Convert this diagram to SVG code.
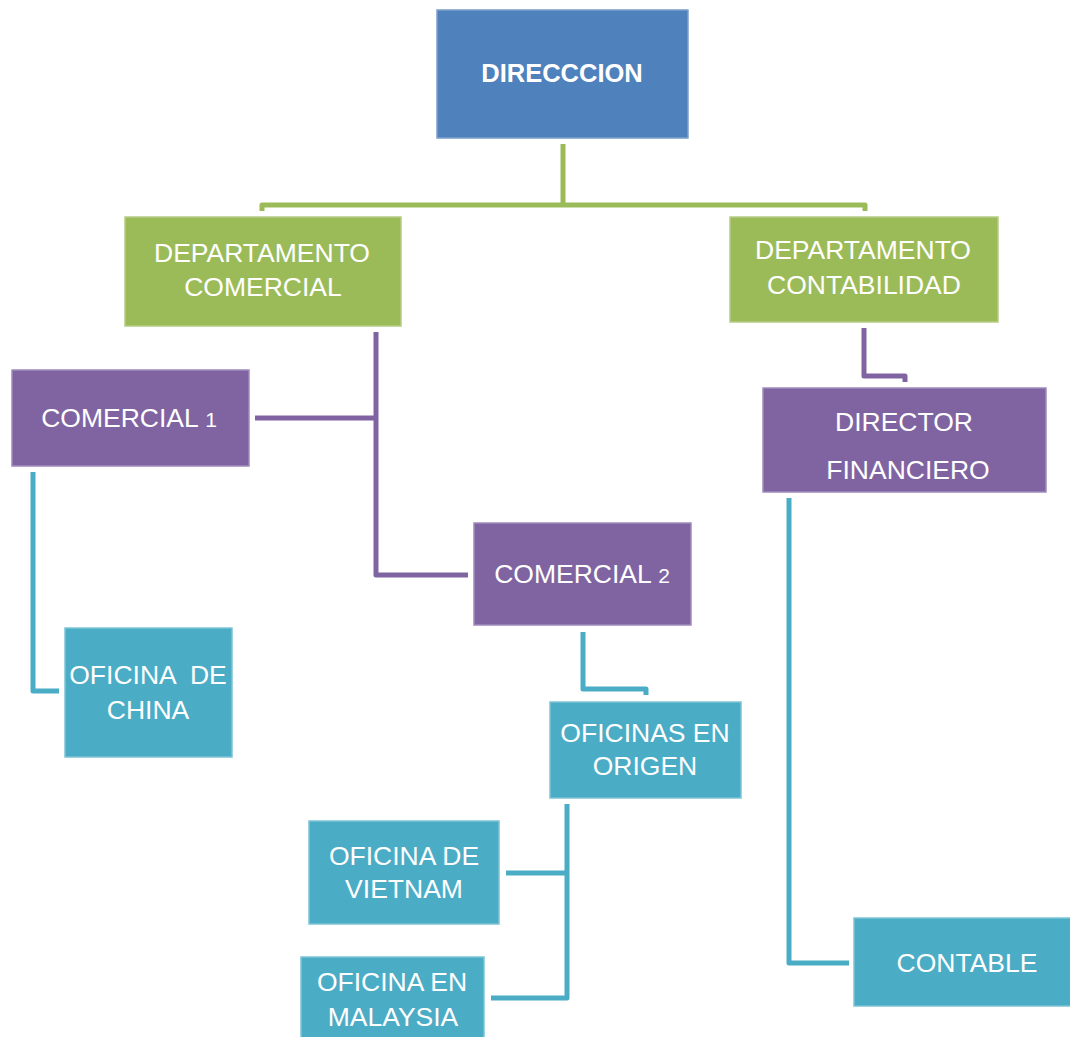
<svg xmlns="http://www.w3.org/2000/svg" width="1070" height="1037" viewBox="0 0 1070 1037">
<style>
.box{stroke-width:1.5}
.blue{fill:#4F81BD;stroke:#7C9FCC}
.green{fill:#9BBB59;stroke:#B5CC85}
.purple{fill:#8064A2;stroke:#A08BBB}
.teal{fill:#4BACC6;stroke:#7DC3D6}
text{font-family:"Liberation Sans",Arial,sans-serif;font-size:26.5px;fill:#FFFFFF;text-anchor:middle;white-space:pre}
.b{font-weight:bold;font-size:25.5px}
.c{fill:none;stroke-width:5;stroke-linejoin:round}
.cg{stroke:#9BBB59}
.cp{stroke:#8064A2}
.ct{stroke:#4BACC6}
</style>
<rect width="1070" height="1037" fill="#FFFFFF"/>
<g id="connectors">
<path class="c cg" d="M563,144 V205 M262,211 V205 H865 V211"/>
<path class="c cp" d="M376,332 V575 H468 M255,418 H376"/>
<path class="c cp" d="M864,328 V376 H905 V382"/>
<path class="c ct" d="M33,472 V691 H59"/>
<path class="c ct" d="M583,632 V689 H646 V695"/>
<path class="c ct" d="M567,804 V998 H491 M506,873 H567"/>
<path class="c ct" d="M789,498 V963 H849"/>
</g>
<g id="direccion">
<rect class="box blue" x="437" y="10" width="251" height="128"/>
<text class="b" x="562" y="82">DIRECCCION</text>
</g>
<g id="dep-comercial">
<rect class="box green" x="125" y="217" width="276" height="109"/>
<text x="262" y="262">DEPARTAMENTO</text>
<text x="263" y="296">COMERCIAL</text>
</g>
<g id="dep-contabilidad">
<rect class="box green" x="730" y="217" width="268" height="105"/>
<text x="863" y="259">DEPARTAMENTO</text>
<text x="864" y="294">CONTABILIDAD</text>
</g>
<g id="comercial1">
<rect class="box purple" x="12" y="370" width="237" height="96"/>
<text x="129" y="427">COMERCIAL <tspan font-size="21">1</tspan></text>
</g>
<g id="comercial2">
<rect class="box purple" x="474" y="523" width="217" height="102"/>
<text x="582" y="583">COMERCIAL <tspan font-size="21">2</tspan></text>
</g>
<g id="director-financiero">
<rect class="box purple" x="763" y="388" width="283" height="104"/>
<text x="904" y="431">DIRECTOR</text>
<text x="908" y="479">FINANCIERO</text>
</g>
<g id="oficina-china">
<rect class="box teal" x="65" y="628" width="167" height="129"/>
<text x="148" y="684">OFICINA  DE</text>
<text x="148" y="719">CHINA</text>
</g>
<g id="oficinas-origen">
<rect class="box teal" x="550" y="702" width="191" height="96"/>
<text x="645" y="742">OFICINAS EN</text>
<text x="645" y="775">ORIGEN</text>
</g>
<g id="oficina-vietnam">
<rect class="box teal" x="309" y="821" width="190" height="103"/>
<text x="404" y="865">OFICINA DE</text>
<text x="404" y="898">VIETNAM</text>
</g>
<g id="oficina-malaysia">
<rect class="box teal" x="301" y="957" width="183" height="84"/>
<text x="392" y="991">OFICINA EN</text>
<text x="393" y="1026">MALAYSIA</text>
</g>
<g id="contable">
<rect class="box teal" x="854" y="918" width="220" height="88"/>
<text x="967" y="972">CONTABLE</text>
</g>
</svg>
